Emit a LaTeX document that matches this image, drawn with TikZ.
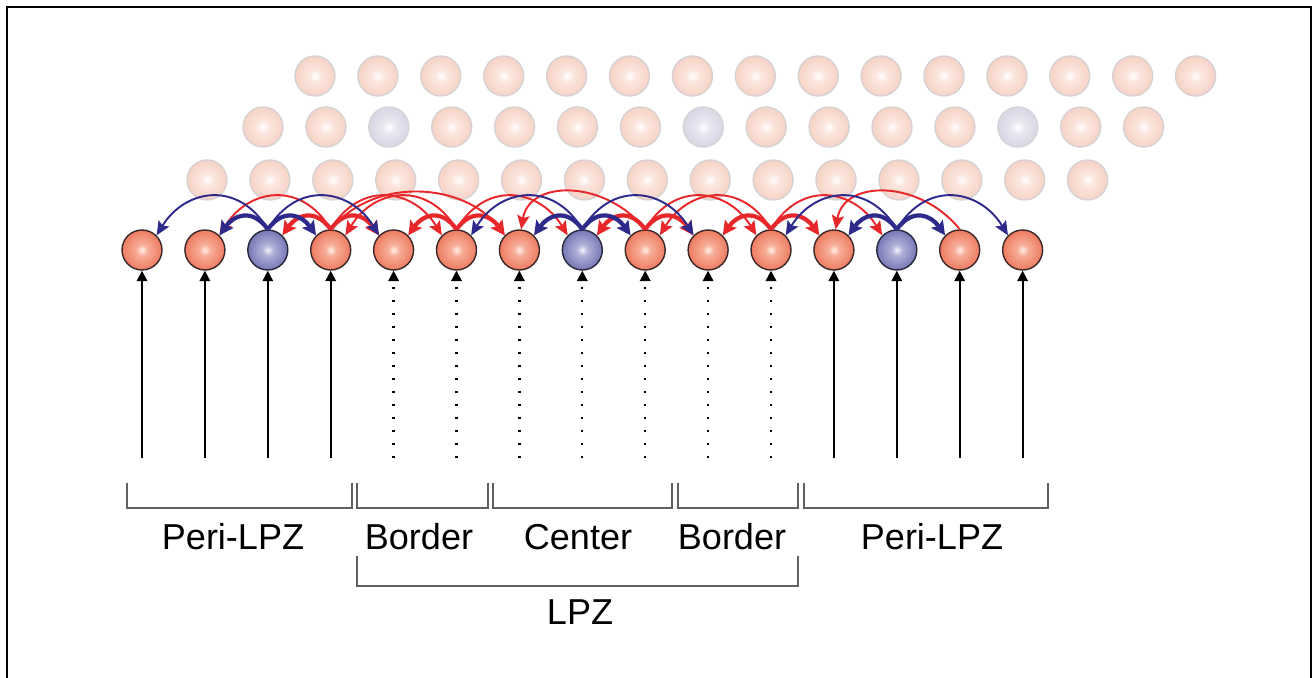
\documentclass[tikz,border=0pt]{standalone}
\usepackage{fontspec}
\setmainfont{Liberation Sans}
\usetikzlibrary{arrows.meta}
\definecolor{rbC}{HTML}{FFEFE8}
\definecolor{rbL}{HTML}{F7AE98}
\definecolor{rbM}{HTML}{EC7258}
\definecolor{rbD}{HTML}{E2503A}
\definecolor{bbC}{HTML}{F2F2FA}
\definecolor{bbL}{HTML}{B0B0D8}
\definecolor{bbM}{HTML}{6E6EB0}
\definecolor{bbD}{HTML}{4E4E98}
\definecolor{fpD}{HTML}{F5CDBF}
\definecolor{fpL}{HTML}{FBE6DE}
\definecolor{fbD}{HTML}{D2D2E2}
\definecolor{fbL}{HTML}{E8E8F1}
\definecolor{arcred}{HTML}{E8272B}
\definecolor{arcblue}{HTML}{2E2A8C}
\definecolor{brk}{HTML}{606060}
\pgfdeclareradialshading{redball}{\pgfpoint{0bp}{0bp}}{color(0bp)=(rbC); color(7bp)=(rbL); color(28bp)=(rbM); color(50bp)=(rbD)}
\pgfdeclareradialshading{blueball}{\pgfpoint{0bp}{0bp}}{color(0bp)=(bbC); color(7bp)=(bbL); color(28bp)=(bbM); color(50bp)=(bbD)}
\pgfdeclareradialshading{fadeball}{\pgfpoint{0bp}{0bp}}{color(0bp)=(white); color(8bp)=(fpL); color(30bp)=(fpD); color(50bp)=(fpD)}
\pgfdeclareradialshading{fadeblue}{\pgfpoint{0bp}{0bp}}{color(0bp)=(white); color(8bp)=(fbL); color(30bp)=(fbD); color(50bp)=(fbD)}
\tikzset{
  ballbase/.style={circle, minimum size=0.8cm, inner sep=0pt},
  rball/.style={ballbase, shading=redball, draw={rgb,255:red,60;green,40;blue,40}, line width=0.8pt},
  bball/.style={ballbase, shading=blueball, draw={rgb,255:red,40;green,40;blue,60}, line width=0.8pt},
  fball/.style={ballbase, shading=fadeball, draw={rgb,255:red,214;green,210;blue,210}, line width=0.8pt},
  fbball/.style={ballbase, shading=fadeblue, draw={rgb,255:red,214;green,210;blue,214}, line width=0.8pt},
  thinarc/.style={line width=1.1pt, -{Stealth[length=8pt,width=7pt,inset=1.5pt]}},
  thickarc/.style={line width=2.4pt, -{Stealth[length=8pt,width=8pt,inset=1.5pt]}},
  rthin/.style={thinarc, draw=arcred},
  rthick/.style={thickarc, draw=arcred},
  bthin/.style={thinarc, draw=arcblue},
  bthick/.style={thickarc, draw=arcblue},
  inarrow/.style={line width=1.1pt, -{Triangle[length=6pt,width=6pt]}},
  indotted/.style={line width=1.3pt, dash pattern=on 1.3pt off 6.1pt, -{Triangle[length=6pt,width=6pt]}},
  bracketline/.style={draw=brk, line width=0.9pt},
  lbl/.style={font=\fontsize{20.5}{24}\selectfont, anchor=base, inner sep=0pt},
}
\newcommand\arcLa[3]{\draw[#1] (#2.north) .. controls +(-16,-22) and +(14,-20) .. (#3.45);}
\newcommand\arcRa[3]{\draw[#1] (#2.north) .. controls +(16,-22) and +(-14,-20) .. (#3.135);}
\newcommand\arcLb[3]{\draw[#1] (#2.north) .. controls +(-30,-50) and +(28,-46) .. (#3.45);}
\newcommand\arcRb[3]{\draw[#1] (#2.north) .. controls +(30,-50) and +(-28,-46) .. (#3.135);}
\newcommand\arcLt[3]{\draw[#1] (#2.north) .. controls +(-40,-50) and +(8,-50) .. (#3.85);}
\newcommand\arcRc[3]{\draw[#1] (#2.north) .. controls +(45,-54) and +(-40,-52) .. (#3.135);}
\begin{document}
\begin{tikzpicture}[x=0.02cm, y=-0.02cm]
\useasboundingbox (0,0) rectangle (1313,678);
\draw[line width=1pt] (7,690) -- (7,7) -- (1311,7) -- (1311,690);
% back rows
\foreach \i in {0,...,14} {
  \node[fball] (ra\i) at ({315+62.9*\i},76) {};
}
\foreach \i in {0,...,14} {
  \pgfmathtruncatemacro\m{mod(\i,5)}
  \ifnum\m=2
    \node[fbball] (rb\i) at ({263+62.9*\i},127) {};
  \else
    \node[fball] (rb\i) at ({263+62.9*\i},127) {};
  \fi
}
\foreach \i in {0,...,14} {
  \node[fball] (rc\i) at ({207+62.9*\i},180) {};
}
% front row
\foreach \i in {0,...,14} {
  \pgfmathtruncatemacro\m{mod(\i,5)}
  \ifnum\m=2
    \node[bball] (b\i) at ({142+62.9*\i},250) {};
  \else
    \node[rball] (b\i) at ({142+62.9*\i},250) {};
  \fi
}
% inputs
\foreach \i in {0,1,2,3,11,12,13,14} {
  \coordinate (in\i) at ({142+62.9*\i},458);
  \draw[inarrow] (in\i) -- (b\i.south);
}
\foreach \i in {4,...,10} {
  \coordinate (in\i) at ({142+62.9*\i},458);
  \draw[indotted] (in\i) -- (b\i.south);
}
% red arcs
\arcLb{rthin}{b3}{b1}
\arcLa{rthick}{b3}{b2}
\arcRa{rthick}{b3}{b4}
\arcRb{rthin}{b3}{b5}
\arcRc{rthin}{b3}{b6}
\arcLb{rthin}{b5}{b3}
\arcLa{rthick}{b5}{b4}
\arcRa{rthick}{b5}{b6}
\arcRb{rthin}{b5}{b7}
\arcLt{rthin}{b8}{b6}
\arcLa{rthick}{b8}{b7}
\arcRa{rthick}{b8}{b9}
\arcRb{rthin}{b8}{b10}
\arcLb{rthin}{b10}{b8}
\arcLa{rthick}{b10}{b9}
\arcRa{rthick}{b10}{b11}
\arcRb{rthin}{b10}{b12}
\arcLt{rthin}{b13}{b11}
% blue arcs
\foreach \s/\l/\ll/\r/\rr in {b2/b1/b0/b3/b4, b7/b6/b5/b8/b9, b12/b11/b10/b13/b14} {
  \arcLb{bthin}{\s}{\ll}
  \arcRb{bthin}{\s}{\rr}
  \arcLa{bthick}{\s}{\l}
  \arcRa{bthick}{\s}{\r}
}
% brackets
\foreach \a/\b/\n in {127/352/p1, 357/488/p2, 493/672/p3, 678/798/p4, 804/1048/p5} {
  \coordinate (\n a) at (\a,483);
  \coordinate (\n b) at (\b,483);
  \draw[bracketline] (\n a) -- ++(0,25) -| (\n b);
}
\coordinate (lpza) at (357,556);
\coordinate (lpzb) at (798,556);
\draw[bracketline] (lpza) -- ++(0,30) -| (lpzb);
\node[lbl] (t1) at (233,550) {Peri-LPZ};
\node[lbl] (t2) at (419,550) {Border};
\node[lbl] (t3) at (578,550) {Center};
\node[lbl] (t4) at (732,550) {Border};
\node[lbl] (t5) at (932,550) {Peri-LPZ};
\node[lbl] (t6) at (580,625) {LPZ};
\end{tikzpicture}
\end{document}
